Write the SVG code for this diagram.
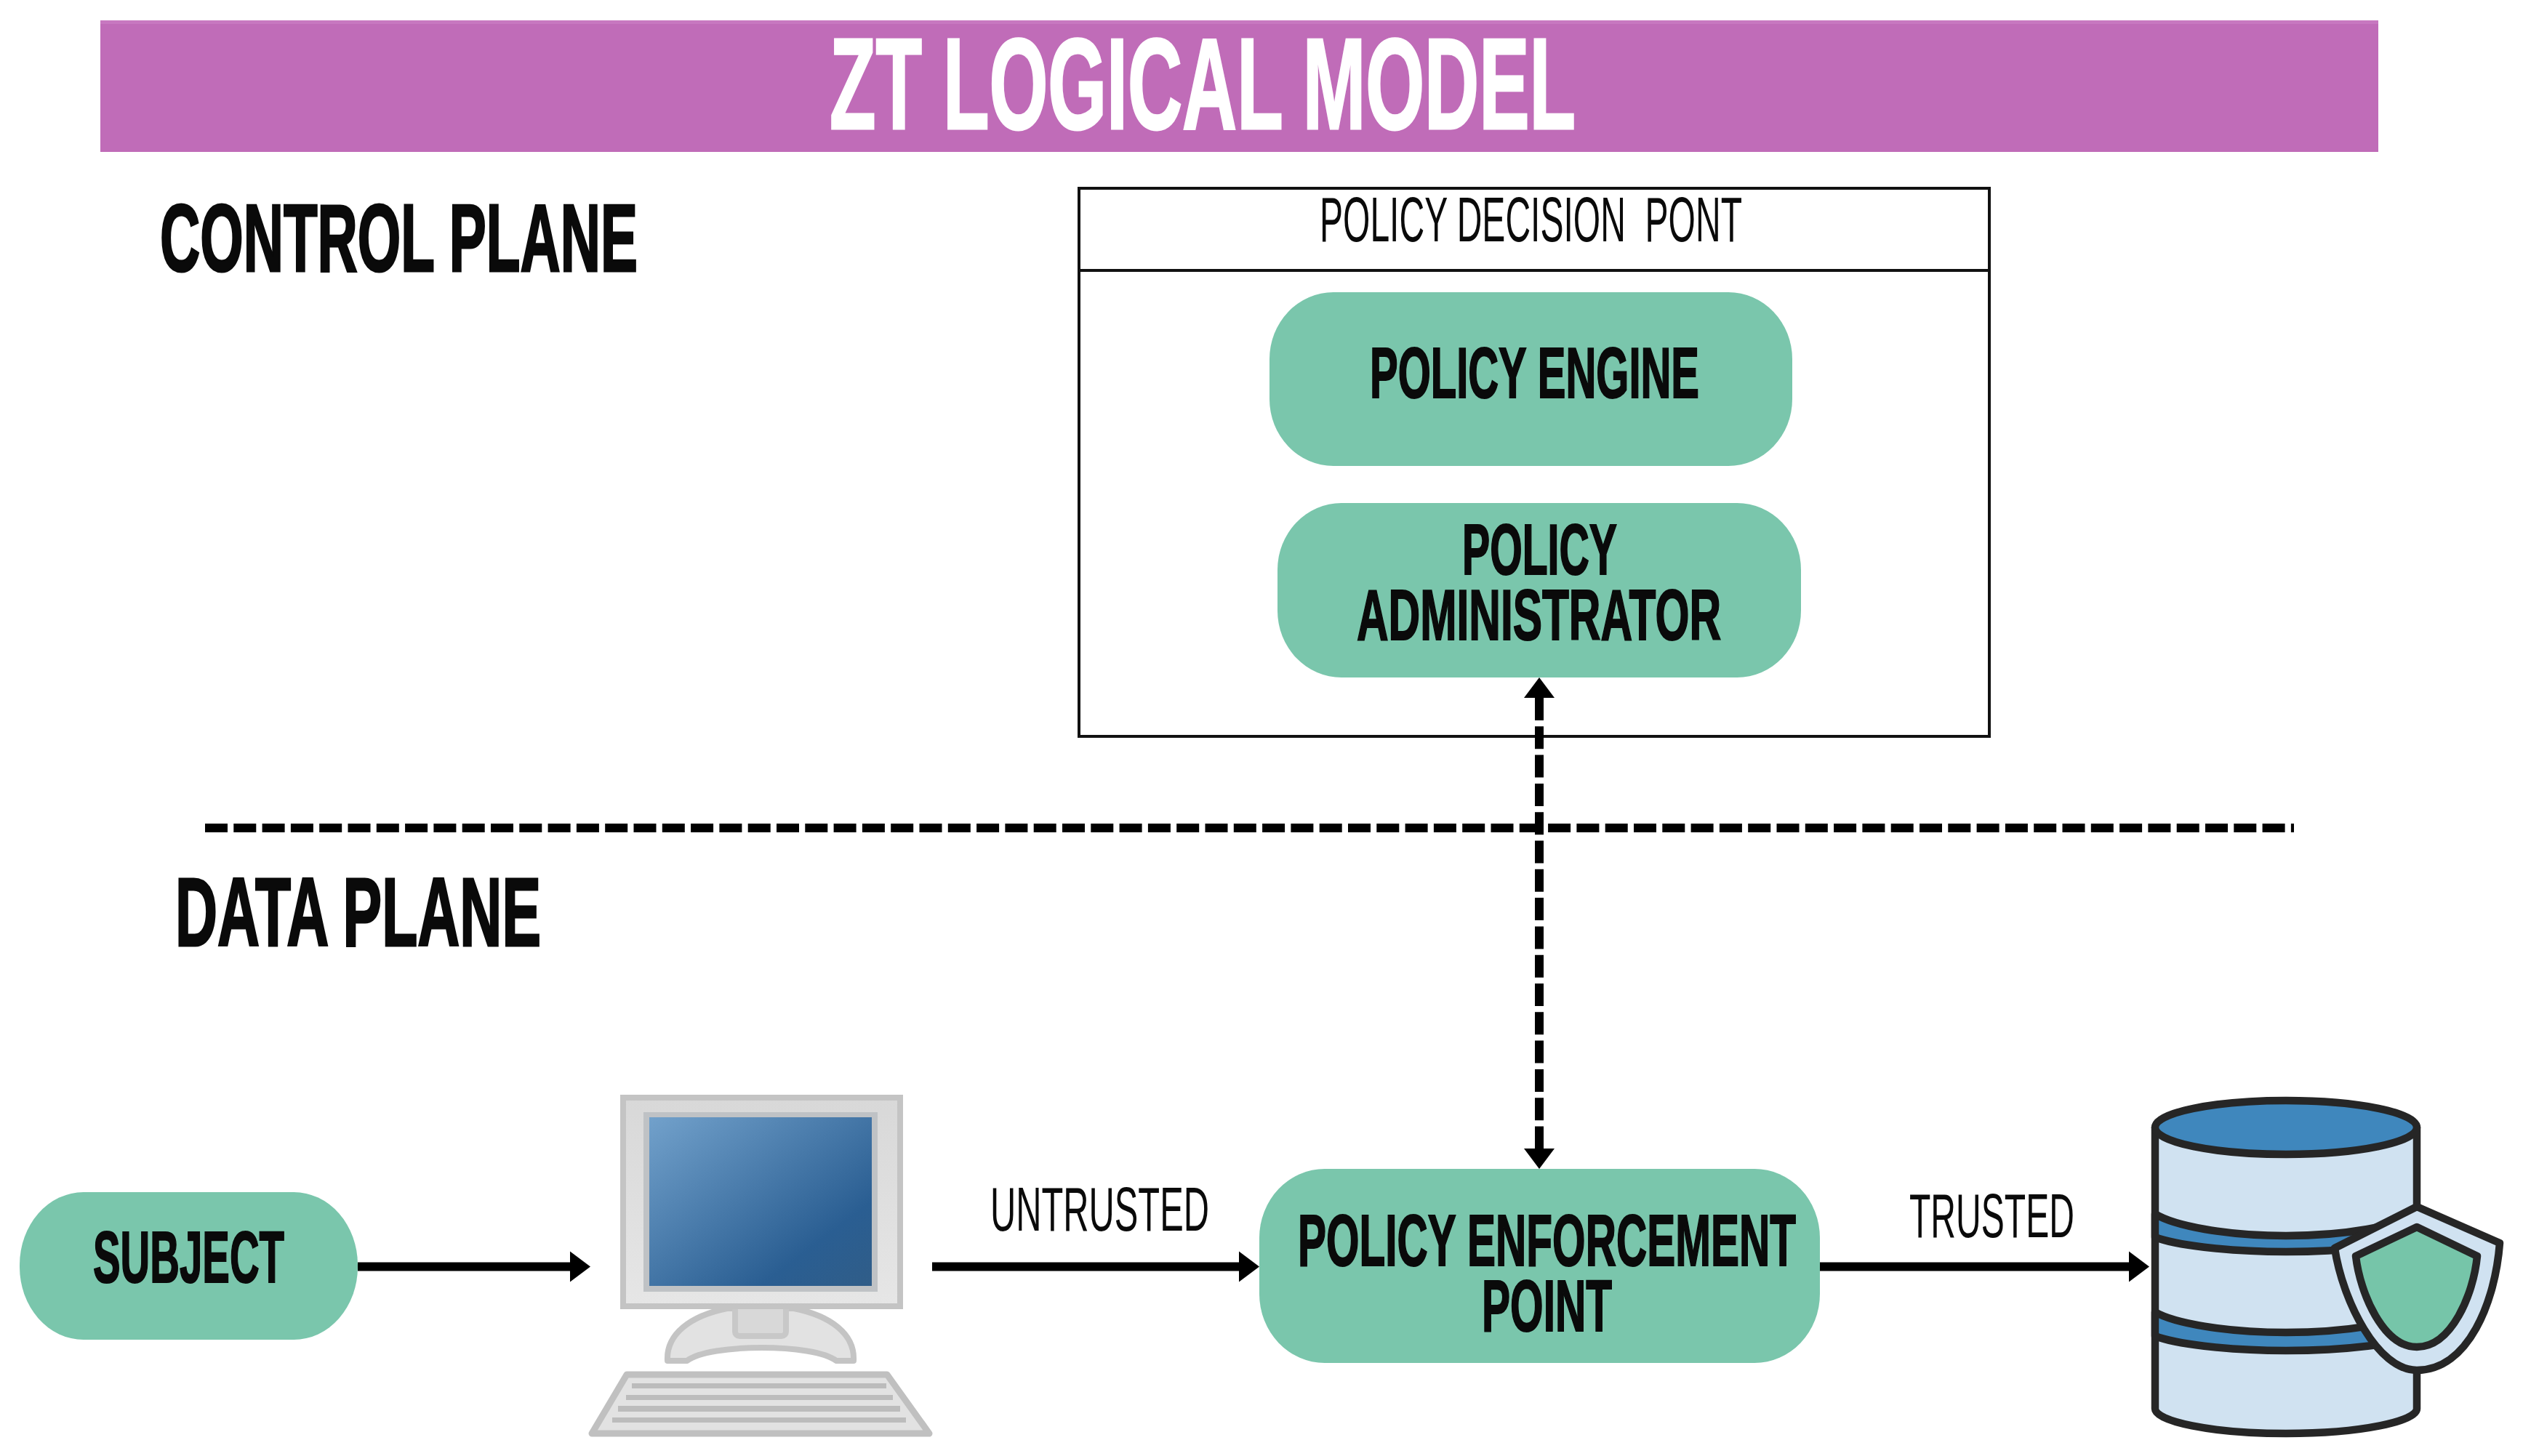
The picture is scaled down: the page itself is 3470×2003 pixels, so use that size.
<svg xmlns="http://www.w3.org/2000/svg" width="3470" height="2003" viewBox="0 0 3470 2003">
<style>
text{font-family:"Liberation Sans",Arial,sans-serif;fill:#0a0a0a;white-space:pre}
.b{font-weight:700;stroke:#0a0a0a;stroke-width:2}
.h{stroke-width:3}
.node{fill:#7ac6ac}
.conn{stroke:#000;stroke-width:12;fill:none}
.dash{stroke-dasharray:31 8.3}
.db{stroke:#262626;stroke-width:10.5;stroke-linejoin:round}
</style>
<defs>
<marker id="ah" markerUnits="userSpaceOnUse" markerWidth="30" markerHeight="44" refX="0" refY="22" orient="auto-start-reverse"><path d="M0 1L28 22L0 43Z" fill="#000"/></marker>
<linearGradient id="scr" x1="0" y1="0" x2="1" y2="1"><stop offset="0" stop-color="#72a1cb"/><stop offset=".75" stop-color="#2a5e92"/><stop offset="1" stop-color="#305d88"/></linearGradient>
<linearGradient id="mon" x1="0" y1="0" x2="0" y2="1"><stop offset="0" stop-color="#d8d8d8"/><stop offset="1" stop-color="#e6e6e6"/></linearGradient>
</defs>
<rect width="3470" height="2003" fill="#fff"/>
<g id="title"><rect x="138" y="28" width="3133" height="181" fill="#c06cb8"/><rect x="138" y="28" width="3133" height="5" fill="#c778c0"/>
<text class="b h" x="1141" y="176.500" font-size="179" textLength="1026" lengthAdjust="spacingAndGlyphs" style="fill:#fff;stroke:#fff">ZT LOGICAL MODEL</text></g>
<g id="control-plane"><text class="b h" x="220" y="372.500" font-size="132" textLength="657" lengthAdjust="spacingAndGlyphs">CONTROL PLANE</text></g>
<g id="data-plane"><text class="b h" x="241" y="1300.500" font-size="134" textLength="503" lengthAdjust="spacingAndGlyphs">DATA PLANE</text></g>
<g id="policy-decision-point"><rect x="1484" y="259" width="1252" height="754" fill="#fff" stroke="#111" stroke-width="4"/><path d="M1482 372H2738" stroke="#111" stroke-width="4"/>
<text x="1815" y="332" font-size="87" textLength="581" lengthAdjust="spacingAndGlyphs">POLICY DECISION  PONT</text></g>
<g id="policy-engine"><rect class="node" x="1746" y="402" width="719" height="239" rx="88" ry="92"/>
<text class="b" x="1884" y="547" font-size="98" textLength="453" lengthAdjust="spacingAndGlyphs">POLICY ENGINE</text></g>
<g id="policy-administrator"><rect class="node" x="1757" y="692" width="720" height="240" rx="88" ry="92"/>
<text class="b" x="2011" y="790" font-size="99" textLength="213" lengthAdjust="spacingAndGlyphs">POLICY</text>
<text class="b" x="1866" y="880" font-size="99" textLength="501" lengthAdjust="spacingAndGlyphs">ADMINISTRATOR</text></g>
<g id="subject"><rect class="node" x="27" y="1640" width="465" height="203" rx="88" ry="100"/>
<text class="b" x="128" y="1764" font-size="100" textLength="263" lengthAdjust="spacingAndGlyphs">SUBJECT</text></g>
<g id="policy-enforcement-point"><rect class="node" x="1732" y="1608" width="771" height="267" rx="90" ry="95"/>
<text class="b" x="1785" y="1741" font-size="100" textLength="685" lengthAdjust="spacingAndGlyphs">POLICY ENFORCEMENT</text>
<text class="b" x="2038" y="1831" font-size="100" textLength="179" lengthAdjust="spacingAndGlyphs">POINT</text></g>
<g id="computer">
<path d="M918 1872C916 1835 950 1810 1000 1800H1092C1142 1810 1176 1835 1174 1872H1150C1120 1848 975 1848 945 1872Z" fill="#e2e2e2" stroke="#c4c4c4" stroke-width="8" stroke-linejoin="round"/>
<rect x="1011" y="1795" width="70" height="43" rx="6" fill="#d8d8d8" stroke="#c8c8c8" stroke-width="8"/>
<rect x="857" y="1510" width="381" height="287" fill="url(#mon)" stroke="#c4c4c4" stroke-width="8"/>
<rect x="885" y="1530" width="322" height="247" fill="#bfc2c5"/>
<rect x="893" y="1537" width="306" height="232" fill="url(#scr)"/>
<path d="M862 1891H1220L1278 1972H814Z" fill="#e2e2e2" stroke="#c0c0c0" stroke-width="9" stroke-linejoin="round"/>
<g fill="#bcbcbc"><rect x="869" y="1903" width="350" height="7"/><rect x="861" y="1919" width="367" height="7"/><rect x="850" y="1934" width="388" height="8"/><rect x="842" y="1950" width="404" height="7"/></g>
</g>
<g id="database">
<path class="db" fill="#d0e2f1" d="M2964 1551V1938C2964 1955 3040 1972 3144 1972S3324 1955 3324 1938V1551Z"/>
<path class="db" fill="#3f87bd" d="M2964 1670C2990 1686 3060 1700 3144 1700S3298 1686 3324 1670V1702C3298 1712 3230 1722 3144 1722S2990 1712 2964 1702Z"/>
<path class="db" fill="#3f87bd" d="M2964 1805C2990 1820 3060 1833 3144 1833S3298 1820 3324 1805V1838C3298 1848 3230 1858 3144 1858S2990 1848 2964 1838Z"/>
<ellipse class="db" cx="3144" cy="1551" rx="180" ry="37" fill="#3f87bd"/>
<path class="db" fill="#d0e2f1" d="M3324 1660L3438 1710C3432 1790 3395 1885 3324 1885C3270 1885 3222 1790 3211 1717Z"/>
<path class="db" fill="#76c5a9" d="M3324 1688L3407 1728C3402 1780 3372 1853 3324 1853C3278 1853 3246 1780 3240 1728Z"/>
</g>
<g id="connectors">
<path class="conn" d="M492 1742.500H784" marker-end="url(#ah)"/>
<path class="conn" d="M1282 1742.500H1704" marker-end="url(#ah)"/>
<path class="conn" d="M2503 1742.500H2928" marker-end="url(#ah)"/>
<path class="conn dash" d="M282 1139H3155"/>
<path class="conn dash" d="M2117 960V1580" marker-start="url(#ah)" marker-end="url(#ah)"/>
</g>
<g id="labels">
<text x="1362" y="1693" font-size="86" textLength="301" lengthAdjust="spacingAndGlyphs">UNTRUSTED</text>
<text x="2626" y="1702" font-size="86" textLength="227" lengthAdjust="spacingAndGlyphs">TRUSTED</text>
</g>
</svg>
